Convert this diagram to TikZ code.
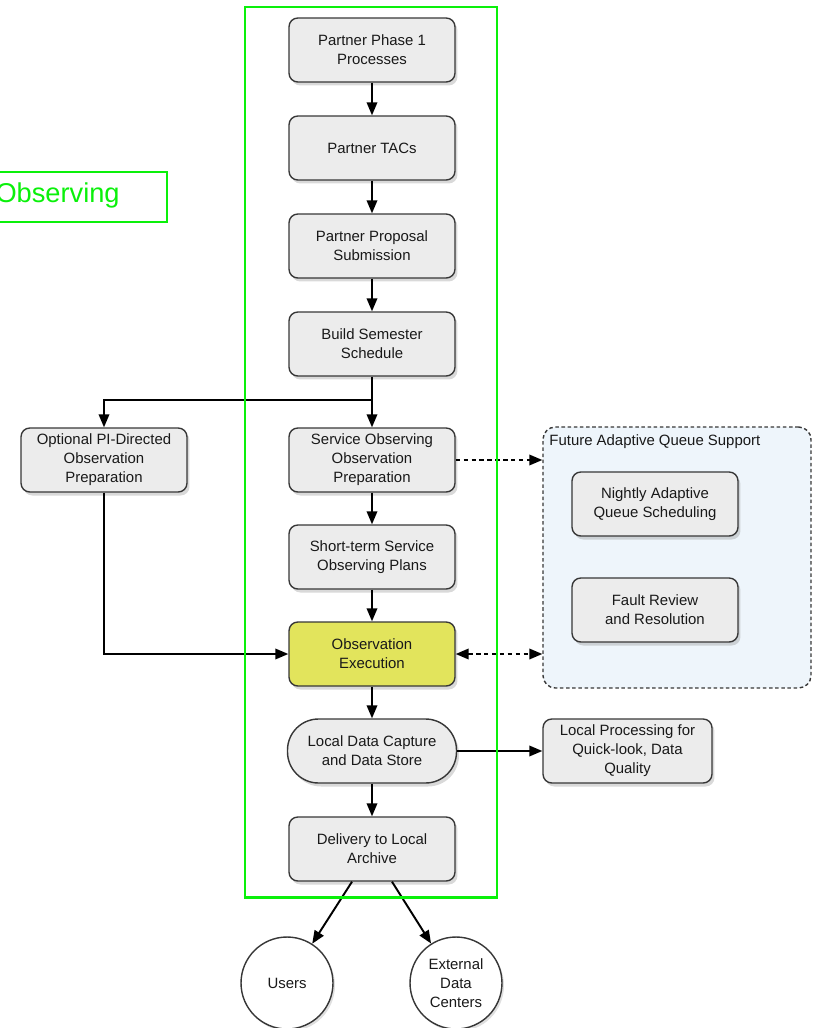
\documentclass[tikz,border=0pt]{standalone}
\usepackage{fontspec}
\setmainfont{Liberation Sans}
\usetikzlibrary{arrows.meta, positioning, shadows, calc}
\definecolor{boxgray}{RGB}{236,236,236}
\definecolor{edgegray}{RGB}{55,55,55}
\definecolor{execyellow}{RGB}{226,228,92}
\definecolor{queueblue}{RGB}{238,245,251}
\definecolor{framegreen}{RGB}{10,240,10}

\begin{document}
\begin{tikzpicture}[x=0.02cm, y=-0.02cm,
    process/.style = {rectangle, draw=edgegray, line width=0.8pt, fill=boxgray, rounded corners=5pt,
        minimum width=3.32cm, minimum height=1.28cm, align=center, inner sep=2pt, text=black!90,
        font=\fontsize{8.5}{10.8}\selectfont,
        drop shadow={shadow xshift=0.05cm, shadow yshift=-0.07cm, opacity=0.3}},
    execbox/.style = {process, fill=execyellow},
    capture/.style = {process, rounded corners=0.62cm, minimum width=3.38cm},
    endpoint/.style = {circle, draw=edgegray, line width=0.8pt, fill=white, minimum size=1.84cm,
        align=center, inner sep=1pt, text=black!90, font=\fontsize{8.5}{10.8}\selectfont,
        drop shadow={shadow xshift=0.04cm, shadow yshift=-0.05cm, opacity=0.25}},
    queuegroup/.style = {rectangle, draw=edgegray, line width=0.8pt, dash pattern=on 2pt off 1.5pt,
        fill=queueblue, rounded corners=7pt, minimum width=5.36cm, minimum height=5.22cm},
    arrow/.style = {-{Triangle[length=0.26cm, width=0.21cm]}, line width=1.1pt},
    darrow/.style = {arrow, dash pattern=on 2.5pt off 2pt},
    ddarrow/.style = {{Triangle[length=0.26cm, width=0.21cm]}-{Triangle[length=0.26cm, width=0.21cm]},
        line width=1.1pt, dash pattern=on 2.5pt off 2pt}
]
\useasboundingbox (0,0) rectangle (815,1028);

% Future queue group
\node[queuegroup] (queue) at (677,557.5) {};
\node[anchor=north west, inner sep=1pt, text=black!90, font=\fontsize{8.5}{10.8}\selectfont]
    (queuelabel) at ($(queue.north west)+(5,6)$) {Future Adaptive Queue Support};
\node[process] (nightly) at (655,504) {Nightly Adaptive\\Queue Scheduling};
\node[process] (fault) at (655,610) {Fault Review\\and Resolution};

% Main column
\node[process] (phase) at (372,50) {Partner Phase 1\\Processes};
\node[process] (tacs) at (372,148) {Partner TACs};
\node[process] (proposal) at (372,246) {Partner Proposal\\Submission};
\node[process] (build) at (372,344) {Build Semester\\Schedule};
\node[process] (service) at (372,460) {Service Observing\\Observation\\Preparation};
\node[process] (shortterm) at (372,557) {Short-term Service\\Observing Plans};
\node[execbox] (exec) at (372,654) {Observation\\Execution};
\node[capture] (capture) at (372,751) {Local Data Capture\\and Data Store};
\node[process] (delivery) at (372,849) {Delivery to Local\\Archive};

% Side boxes
\node[process] (optional) at (104,460) {Optional PI-Directed\\Observation\\Preparation};
\node[process, minimum width=3.38cm] (localproc) at (627.5,751) {Local Processing for\\Quick-look, Data\\Quality};

% End points
\node[endpoint] (users) at (287,983) {Users};
\node[endpoint] (external) at (456,983) {External\\Data\\Centers};

% Edges
\coordinate (split) at (372,400);
\draw[arrow] (phase) -- (tacs);
\draw[arrow] (tacs) -- (proposal);
\draw[arrow] (proposal) -- (build);
\draw[arrow] (build) -- (service);
\draw[arrow] (split) -| (optional);
\draw[arrow] (service) -- (shortterm);
\draw[arrow] (shortterm) -- (exec);
\draw[arrow] (optional) |- (exec);
\draw[arrow] (exec) -- (capture);
\draw[arrow] (capture) -- (delivery);
\draw[arrow] (capture) -- (localproc);
\draw[darrow] (service.east) -- (service.east -| queue.west);
\draw[ddarrow] (exec.east) -- (exec.east -| queue.west);
\draw[arrow] ([xshift=-0.4cm]delivery.south) -- (users);
\draw[arrow] ([xshift=0.4cm]delivery.south) -- (external);

% Green highlight
\node[anchor=base east, inner sep=0pt, text=framegreen, font=\fontsize{15.5}{18}\selectfont]
    (sotitle) at (120,202) {Observing};
\draw[framegreen, line width=1.1pt] (-10,172) rectangle (167,222);
\draw[framegreen, line width=1.7pt] (245,7) rectangle (497,897);

\end{tikzpicture}
\end{document}
